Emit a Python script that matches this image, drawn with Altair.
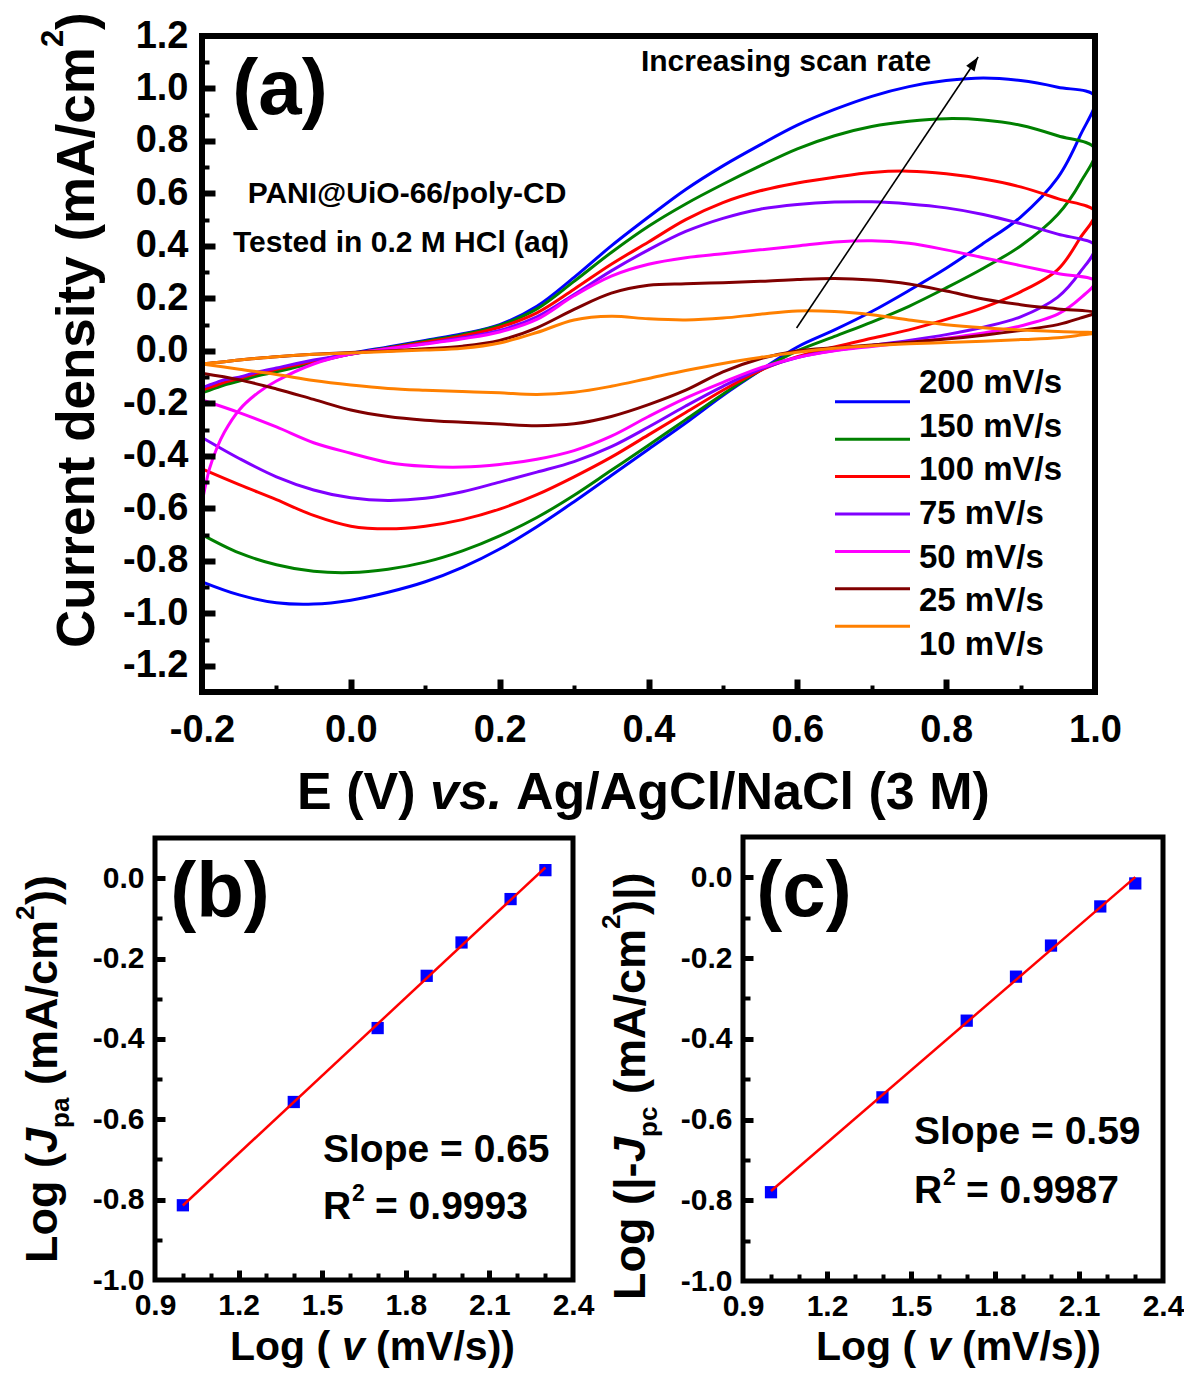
import altair as alt
import pandas as pd

FONT = "Liberation Sans"
W, H = 1176, 1360

# ---------------- data: panel (a) cyclic voltammograms ----------------
scan_rates = ["200 mV/s", "150 mV/s", "100 mV/s", "75 mV/s", "50 mV/s", "25 mV/s", "10 mV/s"]
line_colors = ["#0000FF", "#008000", "#FF0000", "#8000FF", "#FF00FF", "#800000", "#FF8000"]

E_forward = [-0.2, -0.19, -0.18, -0.17, -0.15, -0.125, -0.1, -0.05,
             0.0, 0.05, 0.1, 0.15, 0.2, 0.25, 0.3, 0.35, 0.4, 0.45, 0.5,
             0.55, 0.6, 0.65, 0.7, 0.75, 0.8, 0.85, 0.9, 0.95, 1.0]
E_reverse = [0.98, 0.95, 0.9, 0.85, 0.8, 0.75, 0.7, 0.65, 0.6, 0.55, 0.5, 0.45,
             0.4, 0.35, 0.3, 0.25, 0.2, 0.15, 0.1, 0.05, 0.0, -0.05, -0.1, -0.15, -0.2]

J_fwd_200 = [-0.15, -0.14, -0.13, -0.125, -0.11, -0.09, -0.075, -0.04,
             -0.01, 0.015, 0.04, 0.065, 0.10, 0.17, 0.28, 0.40, 0.51, 0.615, 0.705,
             0.785, 0.86, 0.92, 0.97, 1.007, 1.03, 1.04, 1.03, 1.005, 0.97]
J_fwd_150 = [-0.16, -0.15, -0.14, -0.13, -0.115, -0.095, -0.08, -0.045,
             -0.012, 0.012, 0.037, 0.062, 0.097, 0.16, 0.265, 0.375, 0.475, 0.56, 0.635,
             0.705, 0.77, 0.82, 0.855, 0.875, 0.885, 0.88, 0.86, 0.82, 0.77]
J_fwd_100 = [-0.15, -0.14, -0.13, -0.12, -0.105, -0.085, -0.07, -0.04,
             -0.012, 0.01, 0.033, 0.057, 0.09, 0.145, 0.235, 0.33, 0.415, 0.5, 0.565,
             0.61, 0.64, 0.662, 0.68, 0.685, 0.675, 0.655, 0.625, 0.58, 0.53]
J_fwd_75 = [-0.14, -0.13, -0.12, -0.11, -0.10, -0.08, -0.065, -0.035,
            -0.012, 0.008, 0.028, 0.05, 0.078, 0.13, 0.215, 0.305, 0.385, 0.455, 0.505,
            0.54, 0.558, 0.567, 0.568, 0.56, 0.545, 0.52, 0.485, 0.445, 0.40]
J_fwd_50 = [-0.58, -0.45, -0.37, -0.31, -0.225, -0.16, -0.115, -0.05,
            -0.012, 0.008, 0.026, 0.046, 0.072, 0.12, 0.21, 0.285, 0.33, 0.355, 0.37,
            0.385, 0.40, 0.415, 0.42, 0.41, 0.385, 0.355, 0.325, 0.295, 0.265]
J_fwd_25 = [-0.05, -0.047, -0.044, -0.041, -0.035, -0.028, -0.022, -0.013,
            -0.006, 0.0, 0.008, 0.018, 0.04, 0.088, 0.158, 0.22, 0.25, 0.256, 0.26,
            0.265, 0.272, 0.276, 0.27, 0.255, 0.228, 0.198, 0.176, 0.16, 0.145]
J_fwd_10 = [-0.05, -0.047, -0.044, -0.041, -0.035, -0.028, -0.022, -0.013,
            -0.008, -0.002, 0.003, 0.01, 0.03, 0.07, 0.118, 0.132, 0.122, 0.118, 0.125,
            0.14, 0.152, 0.15, 0.138, 0.118, 0.10, 0.088, 0.08, 0.074, 0.068]

J_rev_200 = [0.82, 0.66, 0.51, 0.41, 0.315, 0.23, 0.15, 0.08, 0.015, -0.075, -0.17, -0.275,
             -0.375, -0.475, -0.575, -0.67, -0.755, -0.825, -0.88, -0.92, -0.95, -0.965, -0.96, -0.93, -0.88]
J_rev_150 = [0.64, 0.52, 0.40, 0.315, 0.24, 0.17, 0.11, 0.055, 0.0, -0.075, -0.165, -0.262,
             -0.36, -0.455, -0.55, -0.635, -0.705, -0.762, -0.805, -0.832, -0.845, -0.84, -0.815, -0.77, -0.70]
J_rev_100 = [0.43, 0.31, 0.225, 0.165, 0.12, 0.08, 0.048, 0.015, -0.022, -0.075, -0.15, -0.235,
             -0.32, -0.405, -0.48, -0.548, -0.603, -0.643, -0.668, -0.678, -0.668, -0.627, -0.567, -0.51, -0.45]
J_rev_75 = [0.30, 0.205, 0.13, 0.09, 0.062, 0.04, 0.021, 0.002, -0.025, -0.07, -0.135, -0.21,
            -0.29, -0.365, -0.422, -0.462, -0.5, -0.537, -0.562, -0.57, -0.56, -0.53, -0.48, -0.41, -0.33]
J_rev_50 = [0.20, 0.14, 0.095, 0.068, 0.048, 0.033, 0.017, 0.0, -0.025, -0.065, -0.12, -0.18,
            -0.25, -0.325, -0.38, -0.413, -0.433, -0.443, -0.44, -0.425, -0.39, -0.35, -0.29, -0.235, -0.187]
J_rev_25 = [0.125, 0.10, 0.078, 0.06, 0.045, 0.033, 0.022, 0.012, 0.0, -0.03, -0.08, -0.15,
            -0.205, -0.25, -0.278, -0.285, -0.279, -0.272, -0.264, -0.25, -0.225, -0.185, -0.145, -0.11, -0.085]
J_rev_10 = [0.06, 0.05, 0.043, 0.037, 0.032, 0.027, 0.02, 0.01, -0.005, -0.025, -0.048, -0.075,
            -0.105, -0.135, -0.158, -0.166, -0.16, -0.155, -0.15, -0.143, -0.13, -0.113, -0.09, -0.07, -0.05]

arrow_E = [0.599, 0.843]
arrow_J = [0.087, 1.12]

# ---------------- data: panels (b) and (c) ----------------
log_scan_rate = [1.0, 1.398, 1.699, 1.875, 2.0, 2.176, 2.301]
log_J_pa = [-0.814, -0.557, -0.373, -0.243, -0.160, -0.052, 0.020]
log_abs_J_pc = [-0.780, -0.545, -0.355, -0.246, -0.169, -0.072, -0.015]

# ---------------- axis domains and tick values ----------------
a_E_domain = [-0.2, 1.0]
a_J_domain = [-1.3, 1.2]
a_x_labels = [-0.2, 0.0, 0.2, 0.4, 0.6, 0.8, 1.0]
a_x_major = [0.0, 0.2, 0.4, 0.6, 0.8]
a_x_minor = [-0.1, 0.1, 0.3, 0.5, 0.7, 0.9]
a_y_labels = [-1.2, -1.0, -0.8, -0.6, -0.4, -0.2, 0.0, 0.2, 0.4, 0.6, 0.8, 1.0, 1.2]
a_y_major = [-1.2, -1.0, -0.8, -0.6, -0.4, -0.2, 0.0, 0.2, 0.4, 0.6, 0.8, 1.0]
a_y_minor = [-1.1, -0.9, -0.7, -0.5, -0.3, -0.1, 0.1, 0.3, 0.5, 0.7, 0.9, 1.1]

bc_x_domain = [0.9, 2.4]
bc_y_domain = [-1.0, 0.1]
bc_x_labels = [0.9, 1.2, 1.5, 1.8, 2.1, 2.4]
bc_x_major = [1.2, 1.5, 1.8, 2.1]
bc_x_minor = [1.0, 1.1, 1.3, 1.4, 1.6, 1.7, 1.9, 2.0, 2.2, 2.3]
bc_y_labels = [-1.0, -0.8, -0.6, -0.4, -0.2, 0.0]
bc_y_major = [-0.8, -0.6, -0.4, -0.2, 0.0]
bc_y_minor = [-0.9, -0.7, -0.5, -0.3, -0.1]

# ---------------- tables ----------------
fwd_lists = [J_fwd_200, J_fwd_150, J_fwd_100, J_fwd_75, J_fwd_50, J_fwd_25, J_fwd_10]
rev_lists = [J_rev_200, J_rev_150, J_rev_100, J_rev_75, J_rev_50, J_rev_25, J_rev_10]
rows = []
for name, fwd, rev in zip(scan_rates, fwd_lists, rev_lists):
    path = list(zip(E_forward, fwd)) + list(zip(E_reverse, rev))
    for i, (e, j) in enumerate(path):
        rows.append({"rate": name, "step": i, "E": e, "J": j})
cv_df = pd.DataFrame(rows)
legend_df = pd.DataFrame({"rate": scan_rates})
arrow_df = pd.DataFrame({"E": arrow_E, "J": arrow_J})
pa_df = pd.DataFrame({"lv": log_scan_rate, "lj": log_J_pa})
pc_df = pd.DataFrame({"lv": log_scan_rate, "lj": log_abs_J_pc})
one = pd.DataFrame({"k": [0]})

# ---------------- helpers ----------------
MINUS = "replace(datum.label, '\u2212', '-')"


def lin(domain, rng):
    return alt.Scale(domain=domain, range=rng, nice=False, zero=False)


def label_axis(orient, values, offset, size, pad):
    return alt.Axis(orient=orient, values=values, offset=offset, format=".1f", labelExpr=MINUS,
                    ticks=False, domain=False, grid=False, title=None,
                    labelFont=FONT, labelFontSize=size, labelFontWeight="bold", labelColor="black",
                    labelPadding=pad, labelFlush=False, labelOverlap=False)


def tick_axis(orient, values, offset, length, width):
    return alt.Axis(orient=orient, values=values, offset=offset, labels=False, domain=False,
                    grid=False, title=None, ticks=True, tickSize={"expr": str(-length)},
                    tickWidth=width, tickColor="black", zindex=1)


def frame_layers(xs, ys, xdom, ydom, b_off, l_off, xmaj, ymaj, xmin, ymin, sw, mj, mjw, mn, mnw):
    fdf = pd.DataFrame({"x1": [xdom[0]], "x2": [xdom[1]], "y1": [ydom[0]], "y2": [ydom[1]]})
    frame = alt.Chart(fdf).mark_rect(fill="transparent", stroke="black", strokeWidth=sw).encode(
        x=alt.X("x1:Q", scale=xs, axis=tick_axis("bottom", xmaj, b_off, mj, mjw)),
        x2="x2:Q",
        y=alt.Y("y1:Q", scale=ys, axis=tick_axis("left", ymaj, l_off, mj, mjw)),
        y2="y2:Q",
    )
    minor = alt.Chart(fdf).mark_point(opacity=0).encode(
        x=alt.X("x1:Q", scale=xs, axis=tick_axis("bottom", xmin, b_off, mn, mnw)),
        y=alt.Y("y1:Q", scale=ys, axis=tick_axis("left", ymin, l_off, mn, mnw)),
    )
    return [frame, minor]


def txt(s, x, y, size, align="left", angle=0, italic=False, baseline="alphabetic"):
    kw = dict(text=s, font=FONT, fontSize=size, fontWeight="bold", color="black",
              align=align, baseline=baseline)
    if angle:
        kw["angle"] = angle
    if italic:
        kw["fontStyle"] = "italic"
    return alt.Chart(one).mark_text(**kw).encode(x=alt.value(x), y=alt.value(y))


color_scale = alt.Scale(domain=scan_rates, range=line_colors)

# ---------------- panel (a) ----------------
ax_a = lin(a_E_domain, [194, 1087])
ay_a = lin(a_J_domain, [684, 28])

cv = alt.Chart(cv_df).mark_line(strokeWidth=3, interpolate="catmull-rom").encode(
    x=alt.X("E:Q", scale=ax_a, axis=label_axis("bottom", a_x_labels, -676, 38, 19)),
    y=alt.Y("J:Q", scale=ay_a, axis=label_axis("left", a_y_labels, -194, 38, 14)),
    color=alt.Color("rate:N", scale=color_scale, legend=None),
    order=alt.Order("step:Q"),
)
arrow_line = alt.Chart(arrow_df).mark_line(color="black", strokeWidth=1.6).encode(
    x=alt.X("E:Q", scale=ax_a, axis=None), y=alt.Y("J:Q", scale=ay_a, axis=None))
arrow_head = alt.Chart(arrow_df.tail(1)).mark_point(
    shape="M0,0L-0.5,1.4L0.5,1.4Z", filled=True, color="black", opacity=1, size=400, angle=33.8
).encode(x=alt.X("E:Q", scale=ax_a, axis=None), y=alt.Y("J:Q", scale=ay_a, axis=None))

a_frame = frame_layers(ax_a, ay_a, a_E_domain, a_J_domain, -676, -194,
                       a_x_major, a_y_major, a_x_minor, a_y_minor, 6, 13, 6, 7, 4)

leg_y = alt.Scale(domain=scan_rates, range=[375, 637], padding=0)
leg_lines = alt.Chart(legend_df).mark_rule(strokeWidth=3).encode(
    x=alt.value(827), x2=alt.value(902),
    y=alt.Y("rate:N", scale=leg_y, axis=None),
    color=alt.Color("rate:N", scale=color_scale, legend=None),
)
leg_text = alt.Chart(legend_df).mark_text(
    font=FONT, fontSize=33, fontWeight="bold", color="black", align="left", baseline="middle"
).encode(x=alt.value(911), y=alt.Y("rate:N", scale=leg_y, axis=None), text="rate:N")

a_texts = [
    txt("(a)", 272, 106, 78, align="center"),
    txt("PANI@UiO-66/poly-CD", 399, 195, 30, align="center"),
    txt("Tested in 0.2 M HCl (aq)", 393, 244, 30, align="center"),
    txt("Increasing scan rate", 778, 63, 30, align="center"),
    txt("E (V)", 289, 801, 52),
    txt("vs.", 422, 801, 52, italic=True),
    txt("Ag/AgCl/NaCl (3 M)", 508, 801, 52),
    txt("Current density (mA/cm", 86, 640, 53, angle=270),
    txt("2", 55, 39, 31, angle=270),
    txt(")", 86, 22, 53, angle=270),
]

# ---------------- panel (b) ----------------
ax_b = lin(bc_x_domain, [147, 565])
ay_b = lin(bc_y_domain, [1272, 830])
b_pts = alt.Chart(pa_df).mark_square(size=150, color="#0000FF", opacity=1).encode(
    x=alt.X("lv:Q", scale=ax_b, axis=label_axis("bottom", bc_x_labels, -88, 30, 10)),
    y=alt.Y("lj:Q", scale=ay_b, axis=label_axis("left", bc_y_labels, -147, 30, 11)),
)
b_fit = alt.Chart(pa_df).transform_regression("lv", "lj").mark_line(color="#FF0000", strokeWidth=2.5).encode(
    x=alt.X("lv:Q", scale=ax_b, axis=None), y=alt.Y("lj:Q", scale=ay_b, axis=None))
b_frame = frame_layers(ax_b, ay_b, bc_x_domain, bc_y_domain, -88, -147,
                       bc_x_major, bc_y_major, bc_x_minor, bc_y_minor, 5, 10, 5, 7, 4)
b_texts = [
    txt("(b)", 212, 909, 78, align="center"),
    txt("Slope = 0.65", 315, 1154, 39),
    txt("R", 315, 1211, 39),
    txt("2", 344, 1193, 23),
    txt("= 0.9993", 367, 1211, 39),
    txt("Log (", 222, 1352, 41),
    txt("v", 334, 1352, 41, italic=True),
    txt("(mV/s))", 368, 1352, 41),
    txt("Log (", 49, 1255, 45, angle=270),
    txt("J", 49, 1145, 45, angle=270, italic=True),
    txt("pa", 61, 1120, 26, angle=270),
    txt("(mA/cm", 49, 1077, 45, angle=270),
    txt("2", 26, 912, 26, angle=270),
    txt("))", 49, 897, 45, angle=270),
]

# ---------------- panel (c) ----------------
ax_c = lin(bc_x_domain, [735, 1155])
ay_c = lin(bc_y_domain, [1273, 829])
c_pts = alt.Chart(pc_df).mark_square(size=150, color="#0000FF", opacity=1).encode(
    x=alt.X("lv:Q", scale=ax_c, axis=label_axis("bottom", bc_x_labels, -87, 30, 10)),
    y=alt.Y("lj:Q", scale=ay_c, axis=label_axis("left", bc_y_labels, -735, 30, 11)),
)
c_fit = alt.Chart(pc_df).transform_regression("lv", "lj").mark_line(color="#FF0000", strokeWidth=2.5).encode(
    x=alt.X("lv:Q", scale=ax_c, axis=None), y=alt.Y("lj:Q", scale=ay_c, axis=None))
c_frame = frame_layers(ax_c, ay_c, bc_x_domain, bc_y_domain, -87, -735,
                       bc_x_major, bc_y_major, bc_x_minor, bc_y_minor, 5, 10, 5, 7, 4)
c_texts = [
    txt("(c)", 796, 908, 78, align="center"),
    txt("Slope = 0.59", 906, 1136, 39),
    txt("R", 906, 1195, 39),
    txt("2", 935, 1177, 23),
    txt("= 0.9987", 958, 1195, 39),
    txt("Log (", 808, 1352, 41),
    txt("v", 920, 1352, 41, italic=True),
    txt("(mV/s))", 954, 1352, 41),
    txt("Log (", 637, 1292, 45, angle=270),
    txt("|-", 637, 1182, 45, angle=270),
    txt("J", 637, 1154, 45, angle=270, italic=True),
    txt("pc", 649, 1129, 26, angle=270),
    txt("(mA/cm", 637, 1086, 45, angle=270),
    txt("2", 612, 921, 26, angle=270),
    txt(")|)", 637, 907, 45, angle=270),
]

layers = ([cv, arrow_line, arrow_head] + a_frame + [leg_lines, leg_text] + a_texts
          + [b_pts, b_fit] + b_frame + b_texts
          + [c_pts, c_fit] + c_frame + c_texts)

chart = (
    alt.layer(*layers)
    .resolve_scale(x="independent", y="independent")
    .resolve_axis(x="independent", y="independent")
    .properties(width=W, height=H, padding=0, background="white",
                autosize=alt.AutoSizeParams(type="none"))
    .configure_view(strokeOpacity=0)
)

chart.save("out.html", embed_options={"renderer": "svg", "actions": False})
